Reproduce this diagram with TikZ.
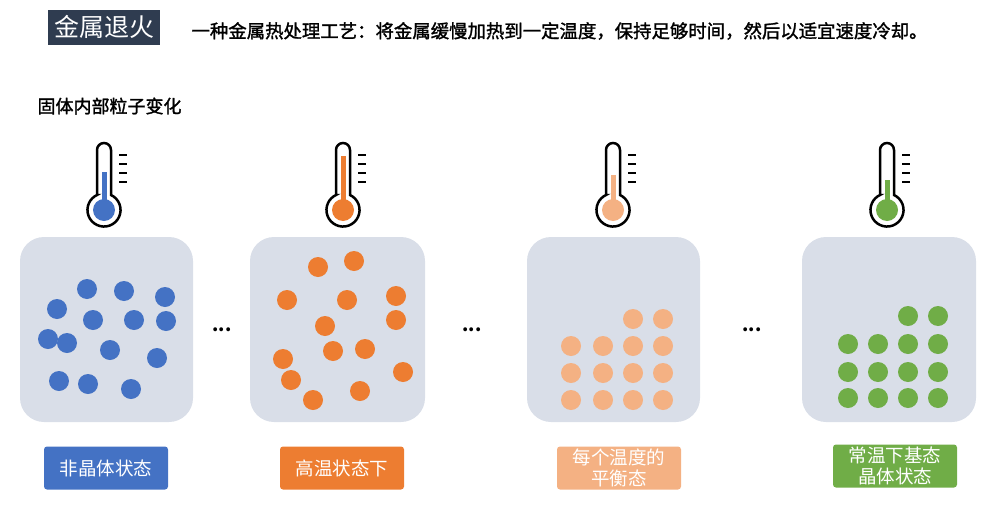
\documentclass[tikz,border=0pt]{standalone}
\usepackage{fontspec}
\setmainfont{Noto Sans CJK SC}
\newfontfamily\bcjk[FakeBold=1.5]{Noto Sans CJK SC}
\begin{document}
\begin{tikzpicture}[x=1pt,y=-1pt,
  panel/.style={fill=panelc,rounded corners=24pt},
  lab/.style={rounded corners=3pt,minimum width=124pt,minimum height=43pt,text=white,font=\fontsize{18.5}{21}\selectfont,align=center,inner sep=0pt},
  dot/.style={circle,minimum size=20pt,inner sep=0pt}]
\definecolor{panelc}{HTML}{D9DEE8}
\definecolor{cb}{HTML}{4472C4}\definecolor{co}{HTML}{ED7D31}
\definecolor{cl}{HTML}{F4B183}\definecolor{cg}{HTML}{70AD47}
\definecolor{navy}{HTML}{2F3C50}
\useasboundingbox (0,0) rectangle (998,506);
\node[fill=navy,text=white,font=\fontsize{25}{27}\selectfont,minimum width=112pt,minimum height=35pt,inner sep=0pt] (title) at (104,27) {金属退火};
\node[anchor=west,font=\bcjk\fontsize{18.4}{20}\selectfont] (desc) at (188,31) {一种金属热处理工艺：将金属缓慢加热到一定温度，保持足够时间，然后以适宜速度冷却。};
\node[anchor=west,font=\bcjk\fontsize{18}{20}\selectfont] (sub) at (34,106) {固体内部粒子变化};
% thermometers
\foreach \cx/\col/\lvl in {104/cb/172,343/co/156,613/cl/175,887/cg/180}{
  \draw[line width=2.5pt,fill=white] (\cx-7,195) -- (\cx-7,150) arc(180:360:7) -- (\cx+7,195) arc(-65:245:16.55) -- cycle;
  \fill[\col] (\cx,210) circle (11);
  \fill[\col] (\cx-2.5,\lvl) rectangle (\cx+2.5,205);
  \foreach \ty in {155,164,173,182}{\draw[line width=1.6pt] (\cx+15,\ty) -- (\cx+23,\ty);}
}
% panels
\fill[panel] (20,237) rectangle (193,422);
\fill[panel] (250,237) rectangle (425,422);
\fill[panel] (527,237) rectangle (700,422);
\fill[panel] (802,237) rectangle (976,422);
\foreach \x in {222,472,752}{\node[font=\bfseries\fontsize{18}{18}\selectfont] at (\x,330) {...};}
\foreach \p in {(87,289),(124,291),(165,297),(57,309),(93,320),(134,320),(166,321),(48,339),(67,343),(110,350),(157,358),(59,381),(88,384),(131,389)}{\node[dot,fill=cb] at \p {};}
\foreach \p in {(318,267),(354,261),(287,300),(347,300),(396,296),(396,320),(325,326),(333,351),(365,349),(283,359),(291,380),(403,372),(360,391),(313,400)}{\node[dot,fill=co] at \p {};}
\foreach \y in {346,373,400}{\foreach \x in {571,603,633,663}{\node[dot,fill=cl] at (\x,\y) {};}}
\foreach \x in {633,663}{\node[dot,fill=cl] at (\x,319) {};}
\foreach \y in {344,372,398}{\foreach \x in {848,878,908,938}{\node[dot,fill=cg] at (\x,\y) {};}}
\foreach \x in {908,938}{\node[dot,fill=cg] at (\x,316) {};}
% labels
\node[lab,fill=cb] (l1) at (106,468) {非晶体状态};
\node[lab,fill=co] (l2) at (342,468) {高温状态下};
\node[lab,fill=cl] (l3) at (619,468) {每个温度的\\平衡态};
\node[lab,fill=cg] (l4) at (895,466) {常温下基态\\晶体状态};
\end{tikzpicture}
\end{document}
